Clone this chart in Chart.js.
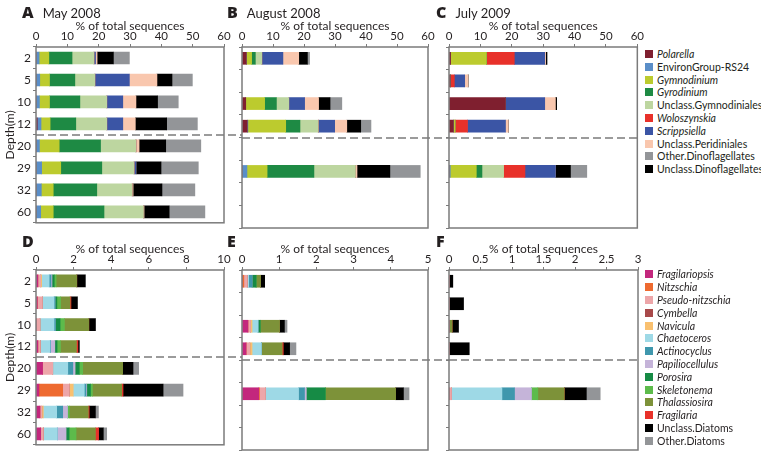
<!DOCTYPE html>
<html><head><meta charset="utf-8">
<script src="https://cdn.jsdelivr.net/npm/chart.js@4"></script>
<style>
body{margin:0;background:#fff;width:761px;height:457px;overflow:hidden;position:relative;font-family:Lato,'Open Sans',sans-serif;color:#231f20}
canvas{position:absolute}
.plabel{position:absolute;font-size:13px;white-space:nowrap;line-height:16px}
.plabel b{font-family:'Open Sans',Lato,sans-serif;font-weight:800;font-size:16px;margin-right:9px}
.legend{position:absolute;left:645px;font-size:10.5px}
.legend div{height:12.8px;white-space:nowrap;display:flex;align-items:center}
.legend .sw{display:inline-block;width:8px;height:8px;margin-right:4px;flex:none}
</style></head><body>
<canvas id="cA"></canvas><canvas id="cB"></canvas><canvas id="cC"></canvas>
<canvas id="cD"></canvas><canvas id="cE"></canvas><canvas id="cF"></canvas>
<div class="plabel" style="left:22px;top:4px"><b>A</b>May 2008</div>
<div class="plabel" style="left:227px;top:4px"><b>B</b>August 2008</div>
<div class="plabel" style="left:436px;top:4px"><b>C</b>July 2009</div>
<div class="plabel" style="left:22px;top:233px"><b>D</b></div>
<div class="plabel" style="left:227px;top:233px"><b>E</b></div>
<div class="plabel" style="left:436px;top:233px"><b>F</b></div>
<div class="legend" id="legDino" style="top:47.6px"></div>
<div class="legend" id="legDiatom" style="top:268px"></div>
<script>
// ---------- categories ----------
const depths = ['2', '5', '10', '12', '20', '29', '32', '60'];

// ---------- dinoflagellate series (stack order) ----------
const dinoNames = ['Polarella', 'EnvironGroup-RS24', 'Gymnodinium', 'Gyrodinium', 'Unclass.Gymnodiniales',
  'Woloszynskia', 'Scrippsiella', 'Unclass.Peridiniales', 'Unclass.Dinoflagellates', 'Other.Dinoflagellates'];
const dinoColors = ['#7f1f2f', '#5a8ec8', '#bccb2e', '#1e8a44', '#bdd6a0',
  '#e8312a', '#3b55a5', '#f9c7ae', '#000000', '#939598'];
const dinoItalic = [true, false, true, true, false, true, true, false, false, false];
const dinoLegendOrder = [0, 1, 2, 3, 4, 5, 6, 7, 9, 8];

// rows = depths, columns = dinoNames
const may2008 = [
  [0, 1.0, 3.1, 7.4, 7.0, 0, 0.5, 0.5, 5.2, 5.1],
  [0, 1.2, 3.1, 8.1, 6.4, 0, 11.0, 8.8, 4.8, 6.5],
  [0, 1.1, 3.2, 9.7, 8.6, 0, 5.1, 4.2, 6.9, 6.6],
  [0.4, 1.2, 2.9, 8.2, 9.9, 0, 5.1, 4.0, 10.0, 9.8],
  [0, 1.1, 6.3, 13.2, 11.3, 0, 0, 1.0, 8.5, 11.2],
  [0, 1.8, 6.1, 13.1, 10.3, 0, 0.6, 0, 8.0, 11.9],
  [0, 1.7, 3.8, 13.9, 11.3, 0, 0, 0.3, 9.2, 10.5],
  [0, 1.5, 4.0, 16.2, 12.6, 0, 0, 0.2, 8.0, 11.4]
];
const aug2008 = [
  [1.4, 0, 1.7, 1.2, 2.1, 0, 6.8, 5.1, 2.8, 0.7],
  null,
  [1.2, 0, 6.1, 3.8, 4.0, 0, 5.1, 4.5, 3.7, 3.8],
  [1.7, 0.2, 12.2, 4.6, 5.9, 0, 5.3, 3.9, 4.5, 3.3],
  null,
  [0, 1.6, 6.5, 15.1, 13.4, 0, 0, 0.5, 10.6, 9.8],
  null,
  null
];
const jul2009 = [
  [0.5, 0, 11.4, 0, 0, 8.9, 9.7, 0.3, 0.4, 0],
  [0.4, 0, 0, 0, 0, 1.3, 3.3, 1.1, 0, 0],
  [18.0, 0, 0, 0, 0, 0, 12.5, 3.4, 0.4, 0],
  [1.4, 0, 0.5, 0, 0, 4.0, 12.1, 0.9, 0, 0],
  null,
  [0, 0.4, 8.3, 1.8, 6.9, 6.8, 9.7, 0, 4.8, 5.2],
  null,
  null
];

// ---------- diatom series (stack order) ----------
const diatomNames = ['Fragilariopsis', 'Nitzschia', 'Pseudo-nitzschia', 'Cymbella', 'Navicula', 'Chaetoceros',
  'Actinocyclus', 'Papiliocellulus', 'Porosira', 'Skeletonema', 'Thalassiosira', 'Fragilaria',
  'Unclass.Diatoms', 'Other.Diatoms'];
const diatomColors = ['#c3277d', '#ee6a30', '#eda6a9', '#a8494a', '#f9c06f', '#9ed9e6',
  '#3f97ad', '#c5b4d9', '#168b45', '#5dbb4b', '#7d9239', '#e8312a', '#000000', '#939598'];
const diatomItalic = [true, true, true, true, true, true, true, true, true, true, true, true, false, false];

const may2008Diatoms = [
  [0.1, 0, 0.15, 0, 0.05, 0.4, 0.1, 0.05, 0.12, 0.1, 1.1, 0, 0.45, 0],
  [0.07, 0, 0.27, 0, 0, 0.62, 0.05, 0, 0.1, 0.2, 0.5, 0.05, 0.34, 0],
  [0, 0, 0.21, 0, 0, 0.75, 0.07, 0, 0.25, 0.23, 1.3, 0, 0.35, 0],
  [0.1, 0, 0.13, 0, 0, 0.52, 0.03, 0.22, 0.12, 0.18, 0.85, 0.08, 0.07, 0],
  [0.35, 0, 0.54, 0, 0, 0.8, 0.27, 0.12, 0.22, 0.18, 2.13, 0, 0.55, 0.3],
  [0.16, 1.26, 0.35, 0, 0.21, 0.59, 0.09, 0.04, 0.2, 0.1, 1.56, 0.07, 2.13, 1.06],
  [0.21, 0, 0.1, 0, 0.08, 0.71, 0.32, 0.26, 0, 0.09, 1.01, 0.05, 0.33, 0.16],
  [0.25, 0, 0.14, 0, 0, 0.74, 0, 0.47, 0.16, 0.37, 1.03, 0.17, 0.25, 0.18]
];
const aug2008Diatoms = [
  [0, 0.05, 0.09, 0, 0, 0.04, 0.09, 0, 0.11, 0, 0.12, 0, 0.11, 0],
  null,
  [0.16, 0, 0.07, 0, 0.04, 0.16, 0, 0, 0.06, 0, 0.52, 0, 0.13, 0.07],
  [0.11, 0, 0.1, 0, 0.06, 0.25, 0, 0, 0, 0, 0.56, 0.03, 0.17, 0.17],
  null,
  [0.45, 0.02, 0.16, 0, 0, 0.89, 0.16, 0.05, 0.51, 0, 1.89, 0, 0.21, 0.15],
  null,
  null
];
const jul2009Diatoms = [
  [0, 0, 0, 0, 0, 0, 0, 0, 0, 0, 0, 0, 0.06, 0],
  [0, 0, 0, 0, 0, 0, 0, 0, 0, 0, 0, 0, 0.23, 0],
  [0, 0, 0, 0, 0, 0, 0, 0, 0, 0, 0.05, 0, 0.1, 0],
  [0, 0, 0, 0, 0, 0, 0, 0, 0, 0, 0, 0, 0.32, 0],
  null,
  [0, 0, 0.04, 0, 0, 0.8, 0.2, 0.27, 0, 0.1, 0.42, 0, 0.35, 0.22],
  null,
  null
];

// ---------- axis ranges ----------
const dinoAxis = { max: 60, step: 10 };
const diatomAxisMay = { max: 10, step: 2 };
const diatomAxisAug = { max: 5, step: 1 };
const diatomAxisJul = { max: 3, step: 0.5 };

// ---------- drawing ----------
const TXT = '#231f20', FRAME = '#7b7b7b';
Chart.defaults.font.family = "Lato, 'Open Sans', sans-serif";
Chart.defaults.color = TXT;

const framePlugin = {
  id: 'frame',
  afterDraw(chart, args, o) {
    const { ctx, chartArea: a, scales: { y } } = chart;
    ctx.save();
    ctx.strokeStyle = FRAME;
    ctx.lineWidth = 1.5;
    ctx.strokeRect(a.left, a.top, a.right - a.left, a.bottom - a.top);
    const yy = Math.round((y.getPixelForValue(3) + y.getPixelForValue(4)) / 2);
    ctx.setLineDash([8, 4]);
    ctx.beginPath();
    ctx.moveTo(a.left, yy);
    ctx.lineTo(o.toEdge ? chart.width : a.right, yy);
    ctx.stroke();
    ctx.restore();
  }
};

function makePanel(id, rows, names, colors, axis, g) {
  const cv = document.getElementById(id);
  cv.width = g.w; cv.height = g.h;
  cv.style.left = g.left + 'px'; cv.style.top = g.top + 'px';
  const datasets = names.map((n, i) => ({
    label: n,
    data: rows.map(r => (r ? r[i] : null)),
    backgroundColor: colors[i],
    borderWidth: 0,
    barThickness: 12
  }));
  new Chart(cv, {
    type: 'bar',
    data: { labels: depths, datasets },
    options: {
      indexAxis: 'y',
      responsive: false,
      animation: false,
      devicePixelRatio: 1,
      layout: { padding: { left: 0, top: 0, right: g.rp, bottom: g.bp } },
      plugins: { legend: { display: false }, tooltip: { enabled: false }, frame: { toEdge: g.toEdge } },
      scales: {
        x: {
          type: 'linear', position: 'top', stacked: true, min: 0, max: axis.max,
          ticks: { stepSize: axis.step, font: { size: 11.5 }, padding: 1, color: TXT,
                   callback: v => String(+v.toFixed(2)) },
          grid: { drawOnChartArea: false, drawTicks: true, tickLength: 3, color: FRAME },
          border: { display: false },
          title: { display: true, text: '% of total sequences', font: { size: 12 }, padding: { top: 2, bottom: 0 }, color: TXT },
          afterFit: s => { s.height = g.xH; }
        },
        y: {
          type: 'category', position: 'left', stacked: true,
          ticks: { display: g.showY, font: { size: 12 }, padding: 2, color: TXT },
          grid: { drawOnChartArea: false, drawTicks: true, tickLength: 3, color: FRAME },
          border: { display: false },
          title: { display: g.showY, text: 'Depth(m)', font: { size: 12 }, padding: { top: 3, bottom: 0 }, color: TXT },
          afterFit: s => { s.width = g.yW; }
        }
      }
    },
    plugins: [framePlugin]
  });
}

const topRow = { top: 17, xH: 30, h: 30 + 181 + 4, bp: 4 };
const botRow = { top: 240, xH: 30, h: 30 + 180 + 4, bp: 4 };
const colA = { left: 0, w: 242, yW: 36, rp: 18, showY: true, toEdge: true };
const colB = { left: 224, w: 225, yW: 18, rp: 21, showY: false, toEdge: true };
const colC = { left: 428, w: 217, yW: 21, rp: 7, showY: false, toEdge: false };

makePanel('cA', may2008, dinoNames, dinoColors, dinoAxis, Object.assign({}, topRow, colA));
makePanel('cB', aug2008, dinoNames, dinoColors, dinoAxis, Object.assign({}, topRow, colB));
makePanel('cC', jul2009, dinoNames, dinoColors, dinoAxis, Object.assign({}, topRow, colC));
makePanel('cD', may2008Diatoms, diatomNames, diatomColors, diatomAxisMay, Object.assign({}, botRow, colA));
makePanel('cE', aug2008Diatoms, diatomNames, diatomColors, diatomAxisAug, Object.assign({}, botRow, colB));
makePanel('cF', jul2009Diatoms, diatomNames, diatomColors, diatomAxisJul, Object.assign({}, botRow, colC));

function buildLegend(elId, order, names, colors, italic) {
  const el = document.getElementById(elId);
  order.forEach(i => {
    const d = document.createElement('div');
    const sw = document.createElement('span');
    sw.className = 'sw'; sw.style.background = colors[i];
    const t = document.createElement('span');
    t.textContent = names[i];
    if (italic[i]) t.style.fontStyle = 'italic';
    d.appendChild(sw); d.appendChild(t);
    el.appendChild(d);
  });
}
buildLegend('legDino', dinoLegendOrder, dinoNames, dinoColors, dinoItalic);
buildLegend('legDiatom', diatomNames.map((_, i) => i), diatomNames, diatomColors, diatomItalic);
</script>
</body></html>
